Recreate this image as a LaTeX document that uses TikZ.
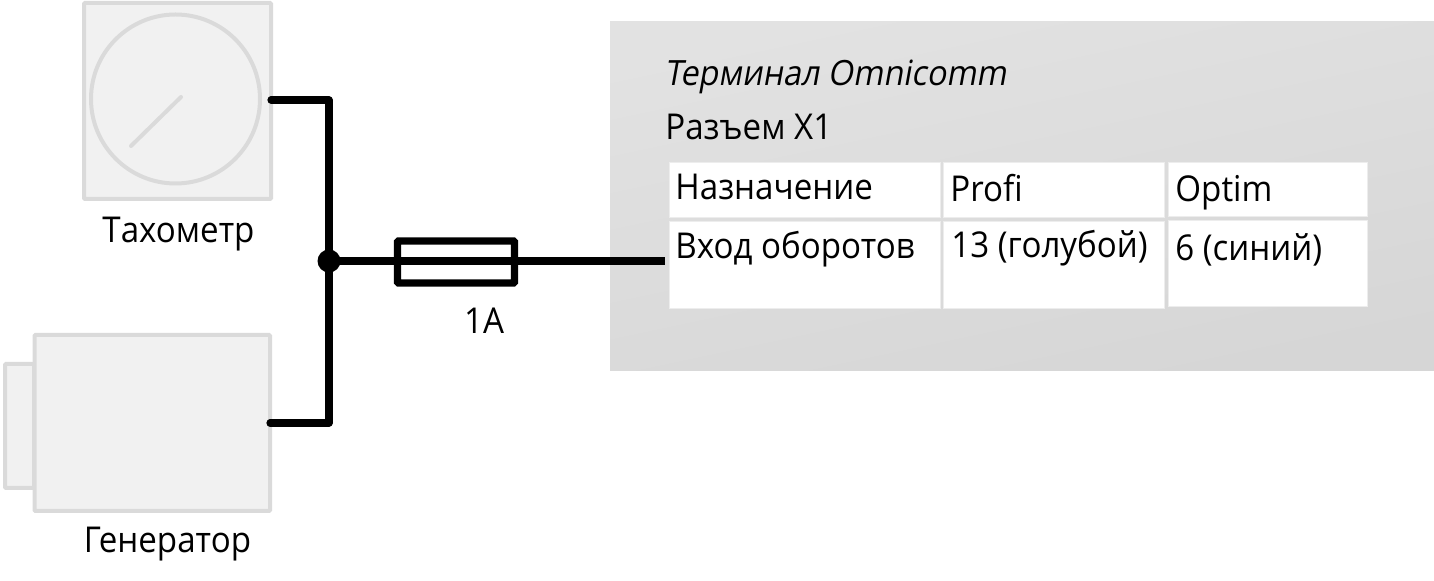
\documentclass[tikz,border=0pt]{standalone}
\usepackage{fontspec}
\setmainfont[FakeStretch=0.93]{Open Sans}
\newfontfamily\itfont[FakeStretch=0.93,FakeSlant=0.18]{Open Sans}
\definecolor{devfill}{HTML}{F1F1F1}
\definecolor{devline}{HTML}{DADADA}
\definecolor{panelA}{HTML}{E2E2E2}
\definecolor{panelB}{HTML}{D6D6D6}
\definecolor{cellline}{HTML}{EDEDED}
\tikzset{
  devbox/.style={draw=devline,fill=devfill,line width=2pt,rounded corners=0.5pt,inner sep=0pt},
  wire/.style={draw=black,line width=3.6pt,line cap=round,line join=round},
  cell/.style={fill=white,draw=cellline,line width=0.5pt,inner sep=0pt},
  txt/.style={anchor=base west,inner sep=0pt,font=\fontsize{17.8pt}{20pt}\selectfont,text=black},
  ctxt/.style={txt,anchor=base}
}
\begin{document}
\begin{tikzpicture}[x=0.5pt,y=-0.5pt]
\useasboundingbox (0,0) rectangle (1434,581);
% devices
\path[devbox] (84,3) rectangle (271,199);
\node[devbox,circle,fill=none,minimum size=84.5pt] (dial) at (175.5,99) {};
\coordinate (needleA) at (131,146);
\coordinate (needleB) at (181,97);
\draw[devline,line width=2pt,line cap=round] (needleA) -- (needleB);
\path[devbox] (5,364) rectangle (34,488);
\path[devbox] (34.5,335) rectangle (270,511);
\node[ctxt] (tacho) at (178.5,242.5) {Тахометр};
\node[ctxt] (gen) at (167.5,553) {Генератор};
% terminal panel
\path[top color=panelA,bottom color=panelB,shading angle=12] (610,22) rectangle (1434,371);
\node[txt,font=\fontsize{17.4pt}{20pt}\selectfont\itfont] (title) at (664,86) {Терминал Omnicomm};
\node[txt] (conn) at (665,139.5) {Разъем X1};
\path[cell] (669,163) rectangle (940,218);
\path[cell] (943,163) rectangle (1164,218);
\path[cell] (1168,163) rectangle (1367,217);
\path[cell] (669,222) rectangle (940,309);
\path[cell] (943,222) rectangle (1164,309);
\path[cell] (1168,221) rectangle (1367,307);
\node[txt] (h1) at (675,199.5) {Назначение};
\node[txt] (h2) at (950,201.5) {Profi};
\node[txt] (h3) at (1175,201.5) {Optim};
\node[txt] (c1) at (675,258.5) {Вход оборотов};
\node[txt] (c2) at (951,257.5) {13 (голубой)};
\node[txt] (c3) at (1175,260.5) {6 (синий)};
% wiring
\coordinate (tachoOut) at (271,100);
\coordinate (genOut) at (270,423);
\coordinate (busTop) at (329,100);
\coordinate (busBot) at (329,423);
\coordinate (inPin) at (665,261);
\node[draw=black,line width=3.6pt,rounded corners=0.5pt,inner sep=0pt,minimum width=58.5pt,minimum height=21pt] (fuse) at (456,262) {};
\node[ctxt] (fuselabel) at (484,333.5) {1A};
\node[fill=black,circle,inner sep=0pt,minimum size=11.5pt] (junc) at (329,261) {};
\draw[wire] (tachoOut) -- (busTop) -- (busBot) -- (genOut);
\draw[wire,line cap=butt] (junc.center) -- (inPin);
\end{tikzpicture}
\end{document}
